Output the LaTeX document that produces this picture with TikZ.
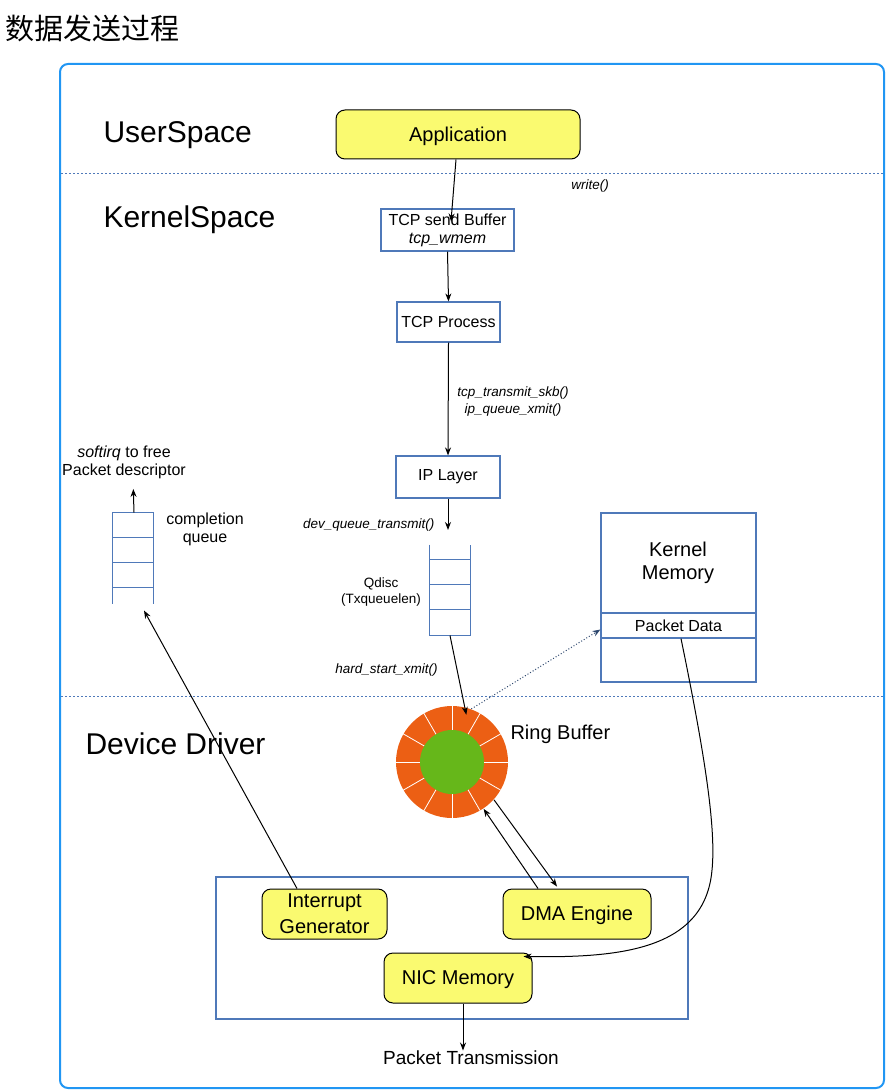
\documentclass[tikz,border=0pt]{standalone}
\usepackage{fontspec}
\setmainfont{Liberation Sans}
\newfontfamily\cjk{Noto Sans CJK SC}
\usetikzlibrary{arrows.meta}

\definecolor{framecol}{RGB}{33,150,243}
\definecolor{boxblue}{RGB}{79,121,185}
\definecolor{nicyellow}{RGB}{250,250,112}
\definecolor{ringorange}{RGB}{236,95,20}
\definecolor{ringgreen}{RGB}{102,183,26}

\tikzset{
  yellowbox/.style = {draw, fill=nicyellow, rounded corners=9pt, inner sep=0, text depth=1pt, align=center, font=\fontsize{20}{26}\selectfont},
  bluebox/.style = {draw=boxblue, line width=1.2pt, inner sep=0, align=center, font=\fontsize{16}{18}\selectfont},
  fncall/.style = {inner sep=0, align=center, font=\fontsize{13.5}{17}\selectfont\itshape},
  txt/.style = {inner sep=0, align=center, font=\fontsize{16}{18}\selectfont},
  bigtxt/.style = {inner sep=0, anchor=west, font=\fontsize{30}{36}\selectfont},
  stack/.style = {minimum width=40pt, minimum height=90pt, inner sep=0},
}

\begin{document}
\begin{tikzpicture}[x=1pt, y=-1pt, line width=1pt, >={Stealth[length=8pt,width=6pt]}]

\useasboundingbox ( 0, 0 ) rectangle ( 887, 1091 );

% Title
\node (title) at ( 5, 28 ) [anchor=west, inner sep=0, font=\cjk\fontsize{29}{34}\selectfont] {数据发送过程};

% Frame and space borders
\draw [framecol, line width=2pt, rounded corners=8pt] ( 60, 64 ) rectangle ( 884, 1088 );
\draw [boxblue, dash pattern=on 2pt off 2pt] ( 61, 174 ) -- ( 883, 174 );
\draw [boxblue, dash pattern=on 2pt off 2pt] ( 61, 696 ) -- ( 883, 696 );

\node (userspace) at ( 103, 135.5 ) [bigtxt] {UserSpace};
\node (kernelspace) at ( 103, 219.5 ) [bigtxt] {KernelSpace};
\node (devdriver) at ( 85, 743.5 ) [bigtxt] {Device Driver};

% Kernel path
\node (app) at ( 458, 134.5 ) [yellowbox, minimum width=244pt, minimum height=49pt] {Application};
\node (sendbuf) at ( 447.5, 230 ) [bluebox, minimum width=133pt, minimum height=42pt] {TCP send Buffer\\\textit{tcp\_wmem}};
\node (tcpproc) at ( 448.5, 322 ) [bluebox, minimum width=103pt, minimum height=40pt] {TCP Process};
\node (iplayer) at ( 448, 477 ) [bluebox, minimum width=104pt, minimum height=42pt] {IP Layer};

\node (writelbl) at ( 590, 186 ) [fncall] {write()};
\node (xmitlbl) at ( 513, 402 ) [fncall] {tcp\_transmit\_skb()\\ip\_queue\_xmit()};
\node (devqlbl) at ( 435, 525 ) [fncall, anchor=east] {dev\_queue\_transmit()};
\node (hardlbl) at ( 438, 670 ) [fncall, anchor=east] {hard\_start\_xmit()};

% Qdisc
\node (qdisc) at ( 450, 590 ) [stack] {};
\draw [boxblue, line width=1.2pt] (qdisc.north west) -- (qdisc.south west) -- (qdisc.south east) -- (qdisc.north east);
\foreach \y in {15,40,65}
  \draw [boxblue, line width=1.2pt] ([yshift=-\y pt]qdisc.north west) -- ([yshift=-\y pt]qdisc.north east);
\node (qdisclbl) at ( 381, 592 ) [fncall, font=\fontsize{13.5}{16}\selectfont] {Qdisc\\(Txqueuelen)};
\coordinate (qin) at ( 448, 530 );

% Completion queue
\node (cq) at ( 133, 558 ) [stack] {};
\draw [boxblue, line width=1.2pt] (cq.south west) -- (cq.north west) -- (cq.north east) -- (cq.south east);
\foreach \y in {25,50,75}
  \draw [boxblue, line width=1.2pt] ([yshift=-\y pt]cq.north west) -- ([yshift=-\y pt]cq.north east);
\node (cqlbl) at ( 205, 529 ) [txt] {completion\\queue};
\node (softirqlbl) at ( 124, 462 ) [txt] {\textit{softirq} to free\\Packet descriptor};

% Kernel memory
\node (kmem) at ( 678.5, 597.5 ) [bluebox, minimum width=155pt, minimum height=169pt] {};
\node (pdata) at ( 678.5, 625.5 ) [bluebox, minimum width=155pt, minimum height=25pt] {Packet Data};
\node (kmemlbl) at ( 678, 563 ) [txt, font=\fontsize{20}{23}\selectfont] {Kernel\\Memory};

% Ring buffer
\node (ring) at ( 452, 762 ) [circle, minimum size=112pt, inner sep=0, fill=ringorange] {};
\foreach \a in {90,60,...,-240}
  \draw [white, line width=0.8pt] (ring.center) -- (ring.\a);
\fill [ringgreen] (ring.center) circle ( 32pt );
\node (ringlbl) at ( 510, 734.5 ) [txt, anchor=west, font=\fontsize{20}{24}\selectfont] {Ring Buffer};

% NIC
\node (nic) at ( 452, 948 ) [draw=boxblue, line width=2pt, minimum width=472pt, minimum height=142pt, inner sep=0] {};
\node (intgen) at ( 324.5, 914 ) [yellowbox, minimum width=125pt, minimum height=50pt] {Interrupt\\Generator};
\node (dma) at ( 577, 914 ) [yellowbox, minimum width=148pt, minimum height=50pt] {DMA Engine};
\node (nicmem) at ( 458, 978 ) [yellowbox, minimum width=148pt, minimum height=50pt] {NIC Memory};
\node (txlbl) at ( 471, 1058 ) [txt, font=\fontsize{19}{22}\selectfont] {Packet Transmission};

% Arrows
\draw [->] ([xshift=-2pt]app.south) -- ([xshift=3.5pt, yshift=-13pt]sendbuf.north);
\draw [->] (sendbuf.south) -- (tcpproc.north);
\draw [->] (tcpproc.south) -- (iplayer.north);
\draw [->] (iplayer.south) -- (qin);
\draw [->, shorten >=-8pt] (qdisc.south) -- (ring.77);
\draw [->, boxblue!60!black, dotted] (ring.70) -- ([yshift=-4pt]pdata.west);
\draw [->] ([xshift=2.5pt]pdata.south) .. controls ( 706, 760 ) and ( 716, 830 ) .. ( 712, 870 )
  .. controls ( 705, 950 ) and ( 620, 958 ) .. ([xshift=-9pt, yshift=-4pt]nicmem.north east);
\draw [->] ([xshift=-39pt]dma.north) -- (ring.-56);
\draw [->] (ring.-42) -- ([xshift=-20pt, yshift=2pt]dma.north);
\draw [->] ([xshift=-27.5pt]intgen.north) -- ([xshift=11pt, yshift=-7pt]cq.south);
\draw [->, shorten >=10pt] ([xshift=1pt]cq.north) -- ([xshift=9pt]softirqlbl.south);
\draw [->] ([xshift=5pt]nicmem.south) -- ([xshift=-8pt]txlbl.north);

\end{tikzpicture}
\end{document}
